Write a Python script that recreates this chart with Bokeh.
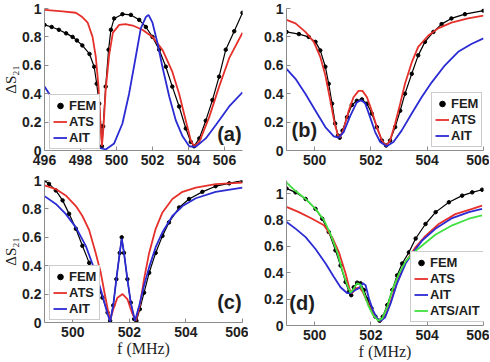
from bokeh.plotting import figure
from bokeh.models import (FixedTicker, CustomJSTickFormatter, Legend, LegendItem,
                          Label, Range1d)
from bokeh.layouts import column, row
from bokeh.embed import file_html
from bokeh.resources import INLINE

# ---------------- data ----------------
Y_TICKS = [0, 0.2, 0.4, 0.6, 0.8, 1]
X_TICKS_A = [496, 498, 500, 502, 504, 506]
X_TICKS_BCD = [500, 502, 504, 506]

# panel (a)
fem_a_f = [496.0, 496.4, 496.8, 497.2, 497.56, 497.8, 498.1, 498.5, 498.76, 498.9, 499.04,
           499.13, 499.19, 499.26, 499.4, 499.56, 499.69, 499.87, 500.33, 500.8, 501.26,
           501.63, 502.0, 502.37, 502.74, 503.1, 503.48, 503.85, 504.13, 504.31, 504.6,
           504.96, 505.33, 505.7, 506.07, 506.54, 507.0]
fem_a = [0.885, 0.87, 0.85, 0.825, 0.80, 0.775, 0.74, 0.68, 0.59, 0.47, 0.33,
         0.17, 0.03, 0.17, 0.45, 0.71, 0.85, 0.93, 0.96, 0.955, 0.92,
         0.87, 0.80, 0.71, 0.59, 0.45, 0.31, 0.155, 0.06, 0.03, 0.085,
         0.21, 0.355, 0.52, 0.71, 0.84, 0.97]
ats_a_f = [496.0, 497.0, 497.74, 498.1, 498.4, 498.67, 498.85, 499.0, 499.1, 499.19, 499.28,
           499.4, 499.6, 499.8, 500.15, 500.5, 500.9, 501.44, 502.0, 502.55, 503.1, 503.48,
           503.85, 504.13, 504.31, 504.6, 505.15, 505.7, 506.26, 507.0]
ats_a = [0.99, 0.98, 0.97, 0.94, 0.90, 0.80, 0.66, 0.45, 0.21, 0.03, 0.17,
         0.43, 0.68, 0.83, 0.885, 0.89, 0.88, 0.85, 0.80, 0.71, 0.555, 0.40,
         0.21, 0.07, 0.03, 0.06, 0.235, 0.45, 0.65, 0.83]
ait_a_f = [496.0, 496.26, 497.37, 498.1, 498.85, 499.4, 499.87, 500.33, 500.7, 501.07, 501.35,
           501.63, 501.78, 502.0, 502.28, 502.55, 502.93, 503.3, 503.67, 504.04, 504.4,
           504.96, 505.52, 506.26, 507.0]
ait_a = [0.45, 0.40, 0.21, 0.10, 0.026, 0.007, 0.05, 0.19, 0.40, 0.66, 0.86,
         0.94, 0.955, 0.90, 0.755, 0.59, 0.38, 0.21, 0.10, 0.03, 0.026,
         0.085, 0.18, 0.31, 0.41]

# panel (b)
fem_b_f = [499.0, 499.44, 499.79, 500.03, 500.2, 500.38, 500.5, 500.62, 500.73, 500.83, 500.89,
           500.99, 501.15, 501.32, 501.5, 501.68, 501.86, 502.03, 502.21, 502.39, 502.54,
           502.68, 502.86, 503.04, 503.21, 503.45, 503.68, 503.92, 504.22, 504.51, 504.86,
           505.34, 506.0]
fem_b = [0.835, 0.82, 0.80, 0.765, 0.705, 0.59, 0.47, 0.33, 0.19, 0.105, 0.09,
         0.14, 0.235, 0.32, 0.35, 0.36, 0.33, 0.26, 0.165, 0.07, 0.035,
         0.07, 0.165, 0.28, 0.40, 0.54, 0.67, 0.765, 0.835, 0.89, 0.93,
         0.96, 0.985]
ats_b_f = [499.0, 499.32, 499.67, 499.97, 500.2, 500.38, 500.56, 500.71, 500.83, 500.91, 501.03,
           501.21, 501.38, 501.56, 501.7, 501.86, 502.03, 502.21, 502.39, 502.54, 502.68,
           502.86, 503.04, 503.21, 503.45, 503.68, 504.04, 504.39, 504.86, 505.45, 506.0]
ats_b = [0.92, 0.895, 0.835, 0.765, 0.66, 0.53, 0.35, 0.19, 0.105, 0.094, 0.15,
         0.28, 0.375, 0.42, 0.42, 0.375, 0.28, 0.165, 0.07, 0.033, 0.07,
         0.19, 0.33, 0.47, 0.62, 0.73, 0.81, 0.86, 0.90, 0.93, 0.95]
ait_b_f = [499.0, 499.32, 499.67, 500.03, 500.38, 500.68, 500.85, 501.03, 501.27, 501.5, 501.66,
           501.8, 501.97, 502.15, 502.33, 502.56, 502.8, 503.09, 503.45, 503.8, 504.16,
           504.63, 505.1, 505.57, 506.0]
ait_b = [0.575, 0.505, 0.40, 0.28, 0.165, 0.10, 0.09, 0.13, 0.245, 0.34, 0.355,
         0.33, 0.235, 0.13, 0.06, 0.03, 0.06, 0.14, 0.26, 0.375, 0.48,
         0.60, 0.695, 0.75, 0.79]

# panel (c)
fem_c_f = [499.0, 499.16, 499.4, 499.64, 499.87, 500.11, 500.34, 500.58, 500.81, 501.05, 501.23,
           501.32, 501.43, 501.54, 501.66, 501.73, 501.81, 501.93, 502.05, 502.17, 502.25,
           502.37, 502.52, 502.7, 502.93, 503.17, 503.4, 503.76, 504.11, 504.58, 505.05,
           505.53, 506.0]
fem_c = [1.0, 0.976, 0.93, 0.86, 0.765, 0.66, 0.54, 0.42, 0.305, 0.175, 0.07,
         0.012, 0.12, 0.305, 0.49, 0.60, 0.49, 0.305, 0.14, 0.024, 0.012,
         0.094, 0.21, 0.35, 0.49, 0.61, 0.705, 0.81, 0.87, 0.92, 0.96,
         0.98, 1.0]
ats_c_f = [499.0, 499.4, 499.75, 500.11, 500.34, 500.58, 500.81, 500.99, 501.14, 501.26, 501.32,
           501.43, 501.58, 501.76, 501.93, 502.09, 502.23, 502.37, 502.52, 502.7, 502.93,
           503.17, 503.52, 503.88, 504.35, 505.05, 506.0]
ats_c = [0.965, 0.94, 0.895, 0.82, 0.75, 0.65, 0.49, 0.35, 0.19, 0.07, 0.012,
         0.094, 0.175, 0.20, 0.165, 0.07, 0.012, 0.12, 0.305, 0.49, 0.66,
         0.775, 0.87, 0.92, 0.95, 0.975, 0.985]
ait_c_f = [499.0, 499.4, 499.75, 500.11, 500.46, 500.81, 501.05, 501.23, 501.32, 501.43, 501.54,
           501.66, 501.73, 501.81, 501.93, 502.05, 502.2, 502.35, 502.52, 502.7, 502.93,
           503.17, 503.52, 503.88, 504.35, 505.05, 506.0]
ait_c = [0.89, 0.835, 0.765, 0.67, 0.54, 0.35, 0.19, 0.06, 0.007, 0.12, 0.305,
         0.49, 0.59, 0.49, 0.305, 0.14, 0.012, 0.12, 0.26, 0.39, 0.53,
         0.635, 0.75, 0.82, 0.875, 0.92, 0.95]

# panel (d)
fem_d_f = [499.0, 499.32, 499.68, 500.03, 500.27, 500.5, 500.74, 500.92, 501.1, 501.22, 501.3,
           501.39, 501.51, 501.63, 501.75, 501.87, 502.02, 502.16, 502.31, 502.42, 502.58,
           502.76, 502.93, 503.11, 503.35, 503.59, 503.94, 504.3, 504.77, 505.24, 505.6,
           505.95]
fem_d = [1.04, 1.01, 0.96, 0.885, 0.81, 0.71, 0.57, 0.455, 0.33, 0.255, 0.23,
         0.29, 0.325, 0.32, 0.27, 0.20, 0.13, 0.067, 0.036, 0.067, 0.155,
         0.27, 0.38, 0.47, 0.555, 0.66, 0.77, 0.86, 0.935, 0.985, 1.01,
         1.03]
ats_d_f = [499.0, 499.44, 499.91, 500.33, 500.62, 500.86, 501.1, 501.25, 501.33, 501.45, 501.59,
           501.71, 501.87, 502.04, 502.22, 502.34, 502.5, 502.7, 502.93, 503.23, 503.59,
           503.94, 504.41, 505.0, 505.6, 505.95]
ats_d = [0.90, 0.86, 0.81, 0.76, 0.67, 0.557, 0.395, 0.27, 0.245, 0.28, 0.29,
         0.255, 0.18, 0.105, 0.05, 0.034, 0.067, 0.18, 0.33, 0.48, 0.595,
         0.68, 0.77, 0.845, 0.885, 0.91]
ait_d_f = [499.0, 499.32, 499.68, 500.03, 500.39, 500.68, 500.92, 501.16, 501.27, 501.45, 501.59,
           501.71, 501.81, 501.93, 502.07, 502.22, 502.34, 502.5, 502.7, 502.93, 503.23,
           503.47, 503.82, 504.3, 504.89, 505.48, 505.95]
ait_d = [0.785, 0.735, 0.67, 0.58, 0.47, 0.37, 0.29, 0.245, 0.245, 0.27, 0.285,
         0.32, 0.305, 0.205, 0.117, 0.054, 0.034, 0.06, 0.167, 0.32, 0.47,
         0.545, 0.645, 0.735, 0.815, 0.86, 0.885]
mix_d_f = [499.0, 499.32, 499.68, 500.03, 500.33, 500.56, 500.8, 501.0, 501.16, 501.27, 501.39,
           501.51, 501.63, 501.75, 501.9, 502.07, 502.26, 502.4, 502.58, 502.76, 502.99,
           503.23, 503.47, 503.82, 504.3, 504.89, 505.48, 505.95]
mix_d = [1.085, 1.02, 0.96, 0.885, 0.80, 0.695, 0.557, 0.406, 0.305, 0.25, 0.28,
         0.32, 0.31, 0.245, 0.155, 0.08, 0.036, 0.054, 0.142, 0.27, 0.39,
         0.487, 0.545, 0.607, 0.69, 0.76, 0.81, 0.835]

# ---------------- style ----------------
RED = "#e6302b"
BLUE = "#2b2bd4"
GREEN = "#40e040"
AXC = "#8c8c8c"
TXT = "#1e1e1e"
SANS = "Liberation Sans"
SERIF = "Liberation Serif"


def panel(x0, x1, y1, xticks, fw, fh, bl, br, bt, bb):
    p = figure(x_range=Range1d(x0, x1), y_range=Range1d(0, y1),
               frame_width=fw, frame_height=fh,
               min_border_left=bl, min_border_right=br,
               min_border_top=bt, min_border_bottom=bb,
               output_backend="svg", toolbar_location=None)
    p.outline_line_color = None
    p.grid.visible = False
    p.background_fill_color = "white"
    p.border_fill_color = "white"
    p.xaxis.ticker = FixedTicker(ticks=xticks)
    p.yaxis.ticker = FixedTicker(ticks=Y_TICKS)
    p.yaxis.formatter = CustomJSTickFormatter(
        code="return (Math.round(tick*10)/10).toString();")
    for ax in (p.xaxis[0], p.yaxis[0]):
        ax.axis_line_color = AXC
        ax.major_tick_line_color = AXC
        ax.major_tick_in = 4
        ax.major_tick_out = 0
        ax.minor_tick_line_color = None
        ax.major_label_text_font = SANS
        ax.major_label_text_font_style = "bold"
        ax.major_label_text_font_size = "14px"
        ax.major_label_text_color = TXT
        ax.axis_label_text_font = SERIF
        ax.axis_label_text_font_style = "normal"
        ax.axis_label_text_color = TXT
        ax.axis_label_standoff = 0
    p.yaxis.axis_label_text_font_size = "15px"
    p.xaxis.axis_label_text_font_size = "16px"
    p.yaxis.major_label_standoff = 3
    p.xaxis.major_label_standoff = 4
    return p


def curves(p, fem_f, fem, lines, loc):
    items = []
    p.line(fem_f, fem, line_color="black", line_width=1.2)
    r_fem = p.scatter(fem_f, fem, size=3.5, fill_color="black", line_color="black")
    items.append(LegendItem(label="FEM", renderers=[r_fem]))
    for f, v, col, name in lines:
        r = p.line(f, v, line_color=col, line_width=1.8)
        items.append(LegendItem(label=name, renderers=[r]))
    lg = Legend(items=items, location=loc, glyph_width=14, glyph_height=15,
                label_height=15, label_standoff=2, padding=3, spacing=1, margin=0,
                border_line_color="#9a9a9a", border_line_width=1,
                background_fill_color="white", background_fill_alpha=1.0,
                label_text_font=SANS, label_text_font_style="bold",
                label_text_font_size="13px", label_text_color=TXT)
    p.add_layout(lg)


def tag(p, x, y, text, align):
    p.add_layout(Label(x=x, y=y, text=text, text_align=align,
                       text_font=SANS, text_font_style="bold",
                       text_font_size="20px", text_color=TXT))


# (a)
pa = panel(496, 507, 1.0, X_TICKS_A, 198, 142, 38, 6, 8, 22)
curves(pa, fem_a_f, fem_a, [(ats_a_f, ats_a, RED, "ATS"), (ait_a_f, ait_a, BLUE, "AIT")], (5, 1))
tag(pa, 506.95, 0.042, "(a)", "right")
pa.yaxis.axis_label = "ΔS₂₁"

# (b)
pb = panel(499, 506, 1.0, X_TICKS_BCD, 197, 142, 38, 6, 8, 22)
curves(pb, fem_b_f, fem_b, [(ats_b_f, ats_b, RED, "ATS"), (ait_b_f, ait_b, BLUE, "AIT")], (145, 3))
tag(pb, 499.18, 0.07, "(b)", "left")

# (c)
pc = panel(499, 506, 1.0, X_TICKS_BCD, 198, 142, 38, 6, 8, 38)
curves(pc, fem_c_f, fem_c, [(ats_c_f, ats_c, RED, "ATS"), (ait_c_f, ait_c, BLUE, "AIT")], (5, 2))
tag(pc, 505.97, 0.07, "(c)", "right")
pc.yaxis.axis_label = "ΔS₂₁"
pc.xaxis.axis_label = "f (MHz)"

# (d)
pd = panel(499, 506, 1.1, X_TICKS_BCD, 197, 145, 38, 6, 5, 38)
curves(pd, fem_d_f, fem_d, [(ats_d_f, ats_d, RED, "ATS"), (ait_d_f, ait_d, BLUE, "AIT"),
                            (mix_d_f, mix_d, GREEN, "ATS/AIT")], (124, 3))
tag(pd, 499.1, 0.091, "(d)", "left")
pd.xaxis.axis_label = "f (MHz)"

layout = column(row(pa, pb), row(pc, pd))
open("out.html", "w").write(file_html(layout, INLINE))
